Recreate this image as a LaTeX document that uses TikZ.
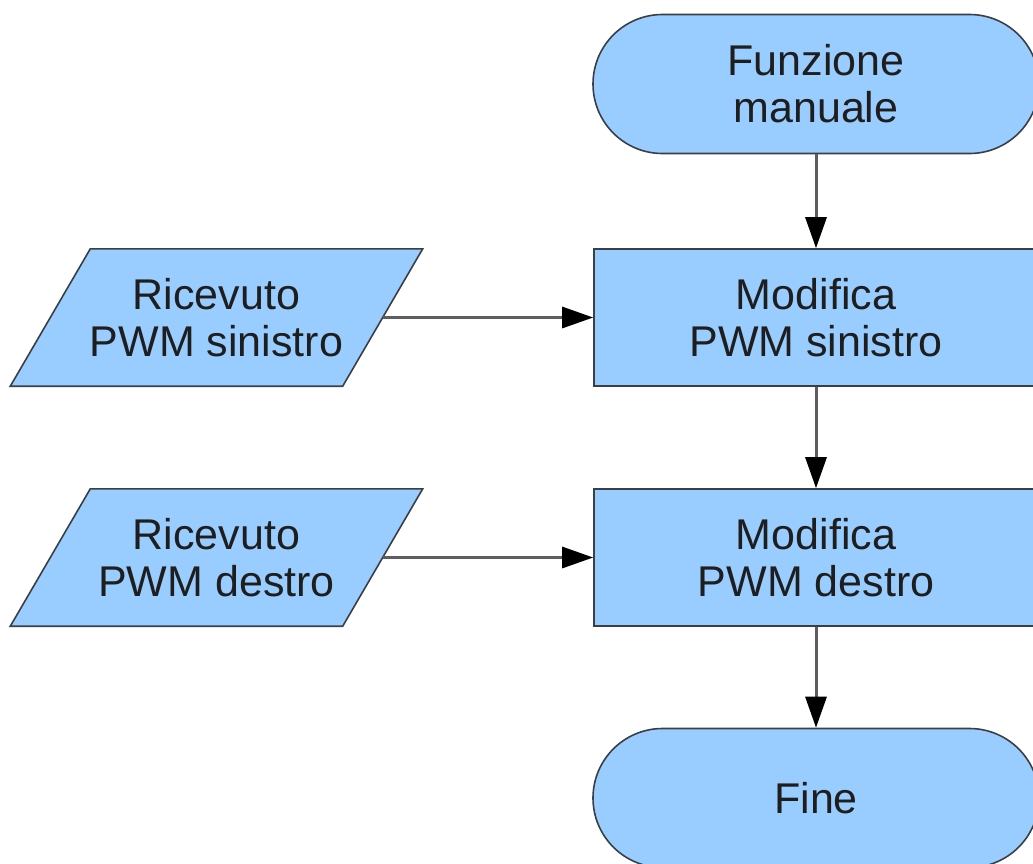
\documentclass[tikz,border=0pt]{standalone}
\usepackage{fontspec}
\setmainfont{Liberation Sans}
\usetikzlibrary{arrows.meta,calc,backgrounds}
\definecolor{boxfill}{HTML}{99CCFF}
\definecolor{boxline}{HTML}{3A3F45}
\definecolor{txt}{HTML}{1E1E1E}
\definecolor{wire}{HTML}{5E5E5E}
\tikzset{
  base/.style={fill=boxfill, draw=boxline, line width=1.6pt, text=txt, align=center,
    font=\fontsize{43}{47}\selectfont, inner sep=0pt},
  terminal/.style={base, rectangle, rounded corners=69.5pt, minimum width=446pt, minimum height=139pt},
  process/.style={base, rectangle, minimum width=444pt, minimum height=137pt},
  iotext/.style={rectangle, text=txt, align=center, font=\fontsize{43}{47}\selectfont,
    inner sep=0pt, minimum width=332pt, minimum height=137pt},
  iobox/.style={fill=boxfill, draw=boxline, line width=1.6pt, line join=miter},
  arr/.style={draw=wire, line width=3pt, -{Triangle[length=31pt,width=21pt,black]}}
}
\begin{document}
\begin{tikzpicture}[x=1pt,y=-1pt]
  \useasboundingbox (0,0) rectangle (1033,863);
  \clip (0,0) rectangle (1033,863);

  % main column
  \node[terminal] (start) at (816,84)  {Funzione\\manuale};
  \node[process]  (modl)  at (816,317.5) {Modifica\\PWM sinistro};
  \node[process]  (modr)  at (816,557.5) {Modifica\\PWM destro};
  \node[terminal] (stop)  at (816,798) {Fine};

  % input parallelograms (text nodes, outline drawn behind)
  \node[iotext] (inl) at (216.5,317.5) {Ricevuto\\PWM sinistro};
  \node[iotext] (inr) at (216.5,557.5) {Ricevuto\\PWM destro};
  \begin{scope}[on background layer]
    \foreach \n in {inl,inr}
      \draw[iobox] ($(\n.north west)+(40,0)$) -- ($(\n.north east)+(40,0)$)
        -- ($(\n.south east)-(40,0)$) -- ($(\n.south west)-(40,0)$) -- cycle;
  \end{scope}

  % connectors
  \draw[arr] (start) -- (modl);
  \draw[arr] (modl) -- (modr);
  \draw[arr] (modr) -- (stop);
  \draw[arr] (inl) -- (modl);
  \draw[arr] (inr) -- (modr);
\end{tikzpicture}
\end{document}
